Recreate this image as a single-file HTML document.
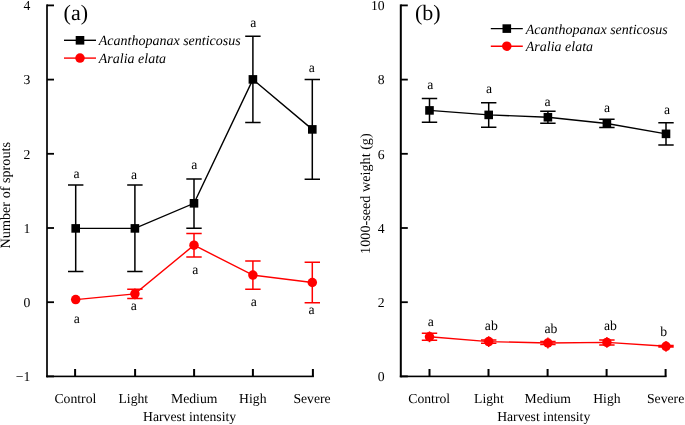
<!DOCTYPE html>
<html><head><meta charset="utf-8"><style>
html,body{margin:0;padding:0;background:#fff;overflow:hidden;}
svg{display:block;text-rendering:geometricPrecision;will-change:transform;}
.t{font-family:"Liberation Serif",serif;font-size:13.7px;fill:#000;}
.y{font-family:"Liberation Serif",serif;font-size:14.2px;fill:#000;}
.i{font-family:"Liberation Serif",serif;font-size:14px;font-style:italic;fill:#000;}
.p{font-family:"Liberation Serif",serif;font-size:22px;fill:#000;}
</style></head><body>
<svg width="685" height="425" viewBox="0 0 685 425">
<rect width="685" height="425" fill="#fff"/>
<rect x="46.00" y="4.40" width="2" height="372.90" fill="#262626"/>
<rect x="46.00" y="375.60" width="267.90" height="1.6" fill="#000"/>
<rect x="47.00" y="4.50" width="7.00" height="1.8" fill="#000"/>
<text x="30.30" y="10.20" text-anchor="end" class="t">4</text>
<rect x="47.00" y="78.70" width="7.00" height="1.8" fill="#000"/>
<text x="30.30" y="84.40" text-anchor="end" class="t">3</text>
<rect x="47.00" y="152.90" width="7.00" height="1.8" fill="#000"/>
<text x="30.30" y="158.60" text-anchor="end" class="t">2</text>
<rect x="47.00" y="227.10" width="7.00" height="1.8" fill="#000"/>
<text x="30.30" y="232.80" text-anchor="end" class="t">1</text>
<rect x="47.00" y="301.30" width="7.00" height="1.8" fill="#000"/>
<text x="30.30" y="307.00" text-anchor="end" class="t">0</text>
<rect x="47.00" y="375.50" width="7.00" height="1.8" fill="#000"/>
<text x="30.30" y="381.20" text-anchor="end" class="t">−1</text>
<rect x="74.10" y="369" width="2" height="7.40" fill="#000"/>
<rect x="134.10" y="369" width="2" height="7.40" fill="#000"/>
<rect x="193.10" y="369" width="2" height="7.40" fill="#000"/>
<rect x="251.90" y="369" width="2" height="7.40" fill="#000"/>
<rect x="311.90" y="369" width="2" height="7.40" fill="#000"/>
<text x="75.40" y="403.00" text-anchor="middle" class="t">Control</text>
<text x="133.30" y="403.00" text-anchor="middle" class="t">Light</text>
<text x="194.20" y="403.00" text-anchor="middle" class="t">Medium</text>
<text x="252.80" y="403.00" text-anchor="middle" class="t">High</text>
<text x="312.00" y="403.00" text-anchor="middle" class="t">Severe</text>
<polyline points="75.70,228.40 134.90,228.40 194.00,203.30 252.90,79.40 312.30,129.40" stroke="#000" stroke-width="1.4" fill="none"/>
<path d="M75.70,185.05 V271.40 M68.00,185.05 H83.40 M68.00,271.40 H83.40" stroke="#000" stroke-width="1.5" fill="none"/>
<path d="M134.90,185.05 V271.40 M127.20,185.05 H142.60 M127.20,271.40 H142.60" stroke="#000" stroke-width="1.5" fill="none"/>
<path d="M194.00,179.10 V228.20 M186.30,179.10 H201.70 M186.30,228.20 H201.70" stroke="#000" stroke-width="1.5" fill="none"/>
<path d="M252.90,36.20 V122.60 M245.20,36.20 H260.60 M245.20,122.60 H260.60" stroke="#000" stroke-width="1.5" fill="none"/>
<path d="M312.30,79.50 V179.30 M304.60,79.50 H320.00 M304.60,179.30 H320.00" stroke="#000" stroke-width="1.5" fill="none"/>
<rect x="71.40" y="224.10" width="8.6" height="8.6" fill="#000"/>
<rect x="130.60" y="224.10" width="8.6" height="8.6" fill="#000"/>
<rect x="189.70" y="199.00" width="8.6" height="8.6" fill="#000"/>
<rect x="248.60" y="75.10" width="8.6" height="8.6" fill="#000"/>
<rect x="308.00" y="125.10" width="8.6" height="8.6" fill="#000"/>
<polyline points="75.70,299.60 134.90,293.85 194.00,245.20 252.90,275.10 312.30,282.50" stroke="#f00" stroke-width="1.4" fill="none"/>
<path d="M134.90,289.30 V298.40 M127.20,289.30 H142.60 M127.20,298.40 H142.60" stroke="#f00" stroke-width="1.5" fill="none"/>
<path d="M194.00,233.50 V257.00 M186.30,233.50 H201.70 M186.30,257.00 H201.70" stroke="#f00" stroke-width="1.5" fill="none"/>
<path d="M252.90,261.00 V289.30 M245.20,261.00 H260.60 M245.20,289.30 H260.60" stroke="#f00" stroke-width="1.5" fill="none"/>
<path d="M312.30,262.20 V302.80 M304.60,262.20 H320.00 M304.60,302.80 H320.00" stroke="#f00" stroke-width="1.5" fill="none"/>
<circle cx="75.70" cy="299.60" r="4.75" fill="#f00"/>
<circle cx="134.90" cy="293.85" r="4.75" fill="#f00"/>
<circle cx="194.00" cy="245.20" r="4.75" fill="#f00"/>
<circle cx="252.90" cy="275.10" r="4.75" fill="#f00"/>
<circle cx="312.30" cy="282.50" r="4.75" fill="#f00"/>
<path d="M134.90,288.45 V299.25" stroke="#f00" stroke-width="1.4" fill="none"/>
<text x="76.50" y="177.80" text-anchor="middle" class="t">a</text>
<text x="134.00" y="178.90" text-anchor="middle" class="t">a</text>
<text x="194.20" y="168.80" text-anchor="middle" class="t">a</text>
<text x="253.40" y="26.60" text-anchor="middle" class="t">a</text>
<text x="311.70" y="71.80" text-anchor="middle" class="t">a</text>
<text x="76.90" y="322.80" text-anchor="middle" class="t">a</text>
<text x="133.70" y="310.20" text-anchor="middle" class="t">a</text>
<text x="195.40" y="273.50" text-anchor="middle" class="t">a</text>
<text x="253.70" y="305.50" text-anchor="middle" class="t">a</text>
<text x="311.50" y="313.90" text-anchor="middle" class="t">a</text>
<text x="63.60" y="20.00" text-anchor="start" class="p">(a)</text>
<line x1="64.00" y1="40.30" x2="96.00" y2="40.30" stroke="#000" stroke-width="1.4"/>
<rect x="75.70" y="36.00" width="8.6" height="8.6" fill="#000"/>
<text x="98.80" y="45.30" text-anchor="start" class="i">Acanthopanax senticosus</text>
<line x1="64.00" y1="58.10" x2="96.00" y2="58.10" stroke="#f00" stroke-width="1.4"/>
<circle cx="80.00" cy="58.10" r="4.75" fill="#f00"/>
<text x="98.80" y="62.90" text-anchor="start" class="i">Aralia elata</text>
<text x="189.60" y="421.00" text-anchor="middle" class="t">Harvest intensity</text>
<text transform="translate(10.4,195.2) rotate(-90)" text-anchor="middle" class="y">Number of sprouts</text>
<rect x="399.80" y="4.40" width="2" height="372.90" fill="#000"/>
<rect x="399.80" y="375.60" width="266.80" height="1.6" fill="#000"/>
<rect x="400.80" y="4.50" width="7.00" height="1.8" fill="#000"/>
<text x="384.60" y="10.20" text-anchor="end" class="t">10</text>
<rect x="400.80" y="78.70" width="7.00" height="1.8" fill="#000"/>
<text x="384.60" y="84.40" text-anchor="end" class="t">8</text>
<rect x="400.80" y="152.90" width="7.00" height="1.8" fill="#000"/>
<text x="384.60" y="158.60" text-anchor="end" class="t">6</text>
<rect x="400.80" y="227.10" width="7.00" height="1.8" fill="#000"/>
<text x="384.60" y="232.80" text-anchor="end" class="t">4</text>
<rect x="400.80" y="301.30" width="7.00" height="1.8" fill="#000"/>
<text x="384.60" y="307.00" text-anchor="end" class="t">2</text>
<rect x="400.80" y="375.50" width="7.00" height="1.8" fill="#000"/>
<text x="384.60" y="381.20" text-anchor="end" class="t">0</text>
<rect x="428.50" y="369" width="2" height="7.40" fill="#000"/>
<rect x="487.50" y="369" width="2" height="7.40" fill="#000"/>
<rect x="546.60" y="369" width="2" height="7.40" fill="#000"/>
<rect x="605.60" y="369" width="2" height="7.40" fill="#000"/>
<rect x="664.60" y="369" width="2" height="7.40" fill="#000"/>
<text x="429.20" y="403.00" text-anchor="middle" class="t">Control</text>
<text x="488.90" y="403.00" text-anchor="middle" class="t">Light</text>
<text x="547.80" y="403.00" text-anchor="middle" class="t">Medium</text>
<text x="606.90" y="403.00" text-anchor="middle" class="t">High</text>
<text x="665.60" y="403.00" text-anchor="middle" class="t">Severe</text>
<polyline points="429.50,110.40 488.70,114.90 547.90,117.25 606.90,123.45 666.00,133.85" stroke="#000" stroke-width="1.4" fill="none"/>
<path d="M429.50,98.60 V122.20 M421.80,98.60 H437.20 M421.80,122.20 H437.20" stroke="#000" stroke-width="1.5" fill="none"/>
<path d="M488.70,102.70 V127.20 M481.00,102.70 H496.40 M481.00,127.20 H496.40" stroke="#000" stroke-width="1.5" fill="none"/>
<path d="M547.90,111.30 V123.20 M540.20,111.30 H555.60 M540.20,123.20 H555.60" stroke="#000" stroke-width="1.5" fill="none"/>
<path d="M606.90,119.30 V127.60 M599.20,119.30 H614.60 M599.20,127.60 H614.60" stroke="#000" stroke-width="1.5" fill="none"/>
<path d="M666.00,122.65 V145.05 M658.30,122.65 H673.70 M658.30,145.05 H673.70" stroke="#000" stroke-width="1.5" fill="none"/>
<rect x="425.20" y="106.10" width="8.6" height="8.6" fill="#000"/>
<rect x="484.40" y="110.60" width="8.6" height="8.6" fill="#000"/>
<rect x="543.60" y="112.95" width="8.6" height="8.6" fill="#000"/>
<rect x="602.60" y="119.15" width="8.6" height="8.6" fill="#000"/>
<rect x="661.70" y="129.55" width="8.6" height="8.6" fill="#000"/>
<polyline points="429.50,336.80 488.70,341.60 547.90,343.00 606.90,342.40 666.00,346.30" stroke="#f00" stroke-width="1.4" fill="none"/>
<path d="M429.50,333.35 V340.20 M421.80,333.35 H437.20 M421.80,340.20 H437.20" stroke="#f00" stroke-width="1.5" fill="none"/>
<path d="M488.70,340.00 V343.20 M481.00,340.00 H496.40 M481.00,343.20 H496.40" stroke="#f00" stroke-width="1.5" fill="none"/>
<path d="M547.90,341.40 V344.60 M540.20,341.40 H555.60 M540.20,344.60 H555.60" stroke="#f00" stroke-width="1.5" fill="none"/>
<path d="M606.90,339.90 V344.90 M599.20,339.90 H614.60 M599.20,344.90 H614.60" stroke="#f00" stroke-width="1.5" fill="none"/>
<path d="M666.00,345.60 V347.00 M658.30,345.60 H673.70 M658.30,347.00 H673.70" stroke="#f00" stroke-width="1.5" fill="none"/>
<circle cx="429.50" cy="336.80" r="4.75" fill="#f00"/>
<circle cx="488.70" cy="341.60" r="4.75" fill="#f00"/>
<circle cx="547.90" cy="343.00" r="4.75" fill="#f00"/>
<circle cx="606.90" cy="342.40" r="4.75" fill="#f00"/>
<circle cx="666.00" cy="346.30" r="4.75" fill="#f00"/>
<path d="M429.50,331.40 V342.20" stroke="#f00" stroke-width="1.4" fill="none"/>
<path d="M488.70,336.20 V347.00" stroke="#f00" stroke-width="1.4" fill="none"/>
<path d="M547.90,337.60 V348.40" stroke="#f00" stroke-width="1.4" fill="none"/>
<path d="M606.90,337.00 V347.80" stroke="#f00" stroke-width="1.4" fill="none"/>
<path d="M666.00,340.90 V351.70" stroke="#f00" stroke-width="1.4" fill="none"/>
<text x="430.40" y="88.80" text-anchor="middle" class="t">a</text>
<text x="489.00" y="92.50" text-anchor="middle" class="t">a</text>
<text x="547.50" y="106.00" text-anchor="middle" class="t">a</text>
<text x="607.00" y="112.00" text-anchor="middle" class="t">a</text>
<text x="667.00" y="113.80" text-anchor="middle" class="t">a</text>
<text x="430.90" y="326.20" text-anchor="middle" class="t">a</text>
<text x="491.30" y="329.70" text-anchor="middle" class="t">ab</text>
<text x="550.90" y="332.80" text-anchor="middle" class="t">ab</text>
<text x="610.50" y="329.70" text-anchor="middle" class="t">ab</text>
<text x="663.70" y="336.00" text-anchor="middle" class="t">b</text>
<text x="415.00" y="20.00" text-anchor="start" class="p">(b)</text>
<line x1="490.80" y1="28.60" x2="522.80" y2="28.60" stroke="#000" stroke-width="1.4"/>
<rect x="502.50" y="24.30" width="8.6" height="8.6" fill="#000"/>
<text x="525.80" y="33.60" text-anchor="start" class="i">Acanthopanax senticosus</text>
<line x1="490.80" y1="46.20" x2="522.80" y2="46.20" stroke="#f00" stroke-width="1.4"/>
<circle cx="506.80" cy="46.20" r="4.75" fill="#f00"/>
<text x="525.80" y="51.00" text-anchor="start" class="i">Aralia elata</text>
<text x="543.70" y="421.00" text-anchor="middle" class="t">Harvest intensity</text>
<text transform="translate(369.6,193.6) rotate(-90)" text-anchor="middle" class="y">1000-seed weight (g)</text>
</svg>
</body></html>
